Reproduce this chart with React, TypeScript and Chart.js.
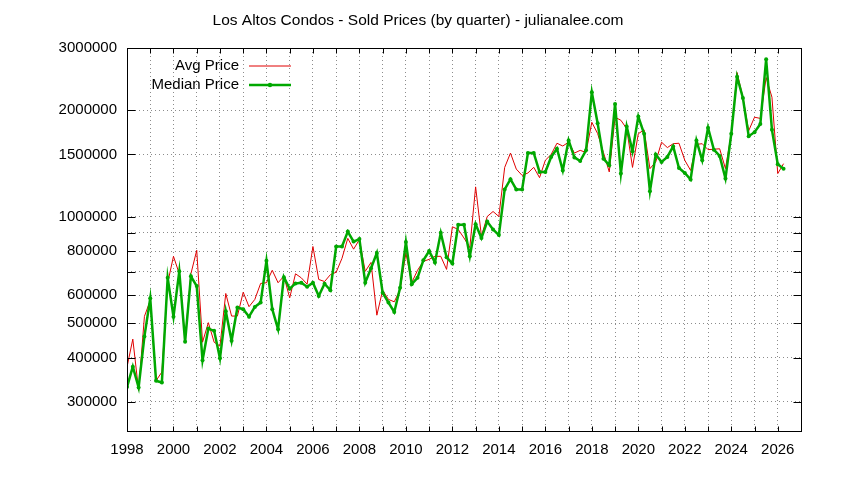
import { useEffect, useRef } from "react";
import { Chart, registerables } from "chart.js";
Chart.register(...registerables);

// -------------------- Datos --------------------
const startYear = 1998; // primer trimestre, un punto cada 0.25 año
const avgPrice = [
  376000, 451000, 323000, 523000,
  580000, 344000, 364000, 650000,
  773000, 690000, 450000, 690000,
  804000, 442000, 502000, 442000,
  431000, 607000, 524000, 524000,
  612000, 557000, 584000, 648000,
  651000, 706000, 651000, 679000,
  590000, 690000, 672000, 645000,
  824000, 665000, 656000, 686000,
  697000, 763000, 869000, 810000,
  862000, 701000, 743000, 527000,
  620000, 584000, 575000, 622000,
  790000, 651000, 706000, 748000,
  758000, 773000, 773000, 710000,
  937000, 921000, 871000, 818000,
  1215000, 882000, 1002000, 1035000,
  1002000, 1379000, 1514000, 1364000,
  1309000, 1330000, 1380000, 1290000,
  1445000, 1500000, 1614000, 1585000,
  1625000, 1514000, 1541000, 1520000,
  1850000, 1719000, 1520000, 1339000,
  1912000, 1874000, 1775000, 1379000,
  1717000, 1761000, 1368000, 1429000,
  1625000, 1569000, 1609000, 1614000,
  1445000, 1352000, 1602000, 1609000,
  1548000, 1552000, 1557000, 1368000,
  1717000, 2557000, 2178000, 1751000,
  1912000, 1897000, 2475000, 2178000,
  1325000, 1413000,
];
const medianPrice = [
  330000, 377000, 329000, 459000,
  588000, 344000, 340000, 672000,
  522000, 701000, 443000, 679000,
  637000, 393000, 483000, 476000,
  398000, 541000, 446000, 554000,
  548000, 522000, 556000, 572000,
  751000, 548000, 481000, 675000,
  626000, 648000, 651000, 634000,
  651000, 597000, 647000, 620000,
  824000, 824000, 908000, 851000,
  865000, 651000, 715000, 790000,
  610000, 572000, 538000, 630000,
  848000, 645000, 672000, 753000,
  800000, 743000, 901000, 768000,
  738000, 949000, 949000, 773000,
  953000, 871000, 969000, 921000,
  888000, 1195000, 1277000, 1195000,
  1195000, 1515000, 1515000, 1339000,
  1339000, 1476000, 1557000, 1352000,
  1644000, 1472000, 1438000, 1541000,
  2250000, 1839000, 1460000, 1398000,
  2084000, 1325000, 1800000, 1531000,
  1920000, 1717000, 1181000, 1501000,
  1429000, 1476000, 1581000, 1374000,
  1330000, 1275000, 1644000, 1445000,
  1785000, 1548000, 1486000, 1283000,
  1717000, 2488000, 2166000, 1690000,
  1734000, 1830000, 2788000, 1761000,
  1407000, 1368000,
];
const yTicks = [300000, 400000, 500000, 600000, 700000, 800000, 900000, 1000000, 1500000, 2000000, 3000000];
const yLabels = [300000, 400000, 500000, 600000, 800000, 1000000, 1500000, 2000000, 3000000];
const xMin = 1998;
const xMax = 2027;
const title = "Los Altos Condos - Sold Prices (by quarter) - julianalee.com";

const FONT = "'Liberation Sans', Arial, sans-serif";
const RED = "#e00000";
const GREEN = "#00a800";

// título, marco, ticks hacia adentro y leyenda estilo gnuplot
const framePlugin = {
  id: "frame",
  afterDraw(chart: any) {
    const { ctx, chartArea: a, scales } = chart;
    const L = Math.round(a.left) + 0.5, R = Math.round(a.right) + 0.5;
    const T = Math.round(a.top) + 0.5, B = Math.round(a.bottom) + 0.5;
    ctx.save();

    // título centrado sobre todo el lienzo (como gnuplot)
    ctx.fillStyle = "#000";
    ctx.font = `15.5px ${FONT}`;
    ctx.textAlign = "center";
    ctx.textBaseline = "middle";
    ctx.fillText(title, chart.width / 2 - 4, 21);

    ctx.strokeStyle = "#000";
    ctx.lineWidth = 1;
    ctx.beginPath();
    for (let v = xMin; v <= xMax; v++) {
      const px = Math.round(scales.x.getPixelForValue(v)) + 0.5;
      ctx.moveTo(px, B); ctx.lineTo(px, B - 5);
      ctx.moveTo(px, T); ctx.lineTo(px, T + 5);
    }
    yTicks.forEach(v => {
      const py = Math.round(scales.y.getPixelForValue(v)) + 0.5;
      ctx.moveTo(L, py); ctx.lineTo(L + 8, py);
      ctx.moveTo(R, py); ctx.lineTo(R - 8, py);
    });
    ctx.stroke();
    ctx.strokeRect(L, T, R - L, B - T);

    // leyenda
    const tx = a.left + 112, lx0 = a.left + 122, lx1 = a.left + 164;
    const rows = [
      { label: "Avg Price", color: RED, width: 1, dot: false },
      { label: "Median Price", color: GREEN, width: 2.5, dot: true },
    ];
    ctx.font = `15px ${FONT}`;
    ctx.textAlign = "right";
    rows.forEach((r, i) => {
      const y = a.top + 18 + i * 19;
      ctx.fillStyle = "#000";
      ctx.fillText(r.label, tx, y);
      ctx.strokeStyle = r.color;
      ctx.lineWidth = r.width;
      ctx.beginPath();
      ctx.moveTo(lx0, y); ctx.lineTo(lx1, y);
      ctx.stroke();
      if (r.dot) {
        ctx.fillStyle = r.color;
        ctx.beginPath();
        ctx.arc((lx0 + lx1) / 2, y, 2.2, 0, Math.PI * 2);
        ctx.fill();
      }
    });
    ctx.restore();
  },
};

export default function App() {
  const canvasRef = useRef<HTMLCanvasElement | null>(null);

  useEffect(() => {
    if (!canvasRef.current) return;
    const pts = (arr: number[]) => arr.map((v, i) => ({ x: startYear + i * 0.25, y: v }));

    const chart = new Chart(canvasRef.current, {
      type: "line",
      data: {
        datasets: [
          {
            label: "Avg Price", data: pts(avgPrice), borderColor: RED, borderWidth: 1,
            pointRadius: 0, tension: 0, order: 1,
          },
          {
            label: "Median Price", data: pts(medianPrice), borderColor: GREEN, borderWidth: 2.5,
            pointRadius: 2, pointBackgroundColor: GREEN, pointBorderColor: GREEN, pointBorderWidth: 0,
            tension: 0, order: 0,
          },
        ],
      },
      options: {
        animation: false,
        responsive: false,
        layout: { padding: { left: 0, right: 43, top: 48, bottom: 0 } },
        plugins: {
          legend: { display: false },
          tooltip: { enabled: false },
          title: { display: false },
        },
        scales: {
          x: {
            type: "linear", min: xMin, max: xMax,
            afterFit: (s: any) => { s.height = 49; },
            ticks: {
              stepSize: 1, autoSkip: false, maxRotation: 0, padding: 10,
              color: "#000", font: { family: FONT, size: 15 },
              callback: (v: any) => (Number(v) % 2 === 0 ? String(v) : ""),
            },
            grid: { color: "#8c8c8c", drawTicks: false },
            border: { display: false, dash: [1, 3] },
          },
          y: {
            type: "logarithmic", min: 248000, max: 3000000,
            afterFit: (s: any) => { s.width = 127; },
            afterBuildTicks: (s: any) => { s.ticks = yTicks.map(v => ({ value: v })); },
            ticks: {
              autoSkip: false, padding: 10,
              color: "#000", font: { family: FONT, size: 15 },
              callback: (v: any) => (yLabels.includes(Number(v)) ? String(v) : ""),
            },
            grid: { color: "#8c8c8c", drawTicks: false },
            border: { display: false, dash: [1, 3] },
          },
        },
      },
      plugins: [framePlugin],
    });

    return () => chart.destroy();
  }, []);

  return (
    <div style={{ position: "absolute", left: 0, top: 0, width: 844, height: 480, background: "#fff" }}>
      <canvas ref={canvasRef} width={844} height={480} />
    </div>
  );
}
